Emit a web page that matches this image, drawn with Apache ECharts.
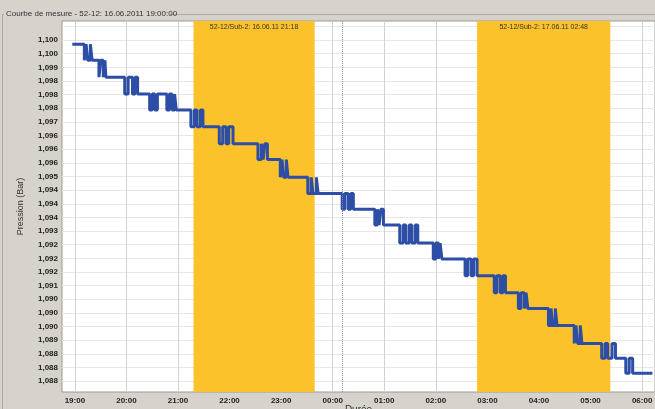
<!DOCTYPE html>
<html>
<head>
<meta charset="utf-8">
<script src="https://cdn.jsdelivr.net/npm/echarts@6/dist/echarts.min.js"></script>
<style>
  html, body { margin: 0; padding: 0; background: #d6d3cc; }
  #chart { width: 655px; height: 409px; }
</style>
</head>
<body>
<div id="chart"></div>
<script>
// Recording header
const chartTitle = 'Courbe de mesure - 52-12: 16.06.2011 19:00:00';

// Time axis: minutes after 16.06.2011 19:00
const hourLabels = ['19:00', '20:00', '21:00', '22:00', '23:00', '00:00',
                    '01:00', '02:00', '03:00', '04:00', '05:00', '06:00'];

// Pressure tick labels, bottom to top (ticks every 0.0005 bar from 1.0875)
const pressureTickStart = 1.0875;
const pressureTickStep = 0.0005;
const pressureLabels = ['1,088', '1,088', '1,088', '1,089', '1,090', '1,090', '1,090',
                        '1,091', '1,092', '1,092', '1,092', '1,093', '1,094', '1,094',
                        '1,094', '1,095', '1,096', '1,096', '1,096', '1,097', '1,098',
                        '1,098', '1,098', '1,099', '1,100', '1,100'];

// Sensor quantisation levels (bar), highest first
const levels = [1.09985, 1.09926, 1.09864, 1.09802, 1.09744, 1.09682, 1.09620,
                1.09562, 1.09497, 1.09438, 1.09380, 1.09322, 1.09256, 1.09198,
                1.09136, 1.09074, 1.09016, 1.08954, 1.08888, 1.08834, 1.08779];

// Minutes at which the reading flips between level k and level k+1
const toggles = [
  [11, 13, 15, 18, 20],
  [28, 30, 33, 35, 36],
  [58, 62, 67, 70, 73],
  [87, 90, 93, 96, 107, 110, 113, 116, 118],
  [135, 139, 142, 146, 149],
  [168, 172, 176, 179, 184],
  [213, 217, 219, 221, 224],
  [239, 241, 243, 246, 248],
  [271, 275, 277, 281, 283],
  [311, 314, 318, 321, 324],
  [349, 352, 354, 356, 359],
  [378, 382, 385, 389, 392, 396, 399],
  [417, 420, 423, 425, 427],
  [454, 457, 461, 464, 468],
  [488, 491, 495, 498, 501],
  [516, 519, 523, 525, 527],
  [551, 554, 556, 559, 561],
  [581, 583, 585, 588, 590],
  [613, 617, 620, 625, 629],
  [641, 645, 649]
];
const firstReading = -3;
const lastReading = 672;

// Substitution events (minutes after 19:00)
const events = [
  { from: 138, to: 279, label: '52-12/Sub-2: 16.06.11 21:18' },
  { from: 468, to: 623, label: '52-12/Sub-2: 17.06.11 02:48' }
];
const cursorMinute = 311;

// Build the step series from the level flips
const readings = [[firstReading, levels[0]]];
toggles.forEach((times, k) => {
  times.forEach((t, j) => {
    readings.push([t, j % 2 === 0 ? levels[k + 1] : levels[k]]);
  });
});
readings.push([lastReading, levels[levels.length - 1]]);

const T = 'rgba(0,0,0,0)';
const chart = echarts.init(document.getElementById('chart'));
chart.setOption({
  backgroundColor: '#d6d3cc',
  animation: false,
  textStyle: { fontFamily: 'Liberation Sans' },
  graphic: [
    { type: 'line', shape: { x1: 2.5, y1: 15, x2: 2.5, y2: 409 },
      style: { stroke: '#aeaba4', lineWidth: 1 } },
    { type: 'line', shape: { x1: 2, y1: 14.5, x2: 4, y2: 14.5 },
      style: { stroke: '#aeaba4', lineWidth: 1 } },
    { type: 'line', shape: { x1: 170, y1: 14.5, x2: 655, y2: 14.5 },
      style: { stroke: '#aeaba4', lineWidth: 1 } },
    { type: 'text', left: 6, top: 10,
      style: { text: chartTitle, fill: '#333', font: '8px "Liberation Sans"' } }
  ],
  grid: {
    left: 62, right: 0, top: 21, bottom: 17,
    containLabel: false, outerBoundsMode: 'none',
    show: true, backgroundColor: '#ffffff', borderColor: '#9c9a95', borderWidth: 1
  },
  xAxis: {
    type: 'value', min: -15, max: 675, interval: 15,
    name: 'Durée', nameLocation: 'middle', nameGap: 13, nameMoveOverlap: false,
    nameTextStyle: { fontSize: 10, color: '#333', verticalAlign: 'top' },
    axisLine: { show: false }, axisTick: { show: false },
    axisLabel: {
      margin: 5, fontSize: 8, fontWeight: 'bold', color: '#222',
      formatter: v => (v >= 0 && v % 60 === 0) ? (hourLabels[v / 60] || '') : ''
    },
    splitLine: { show: true, lineStyle: { color: [T, '#d2d2d2', T, T], width: 1 } }
  },
  yAxis: {
    type: 'value', min: 1.0871, max: 1.1007, interval: 0.0001,
    name: 'Pression (Bar)', nameLocation: 'middle', nameGap: 37, nameMoveOverlap: false,
    nameTextStyle: { fontSize: 9, color: '#333' },
    axisLine: { show: false }, axisTick: { show: false },
    axisLabel: {
      margin: 4, fontSize: 8, fontWeight: 'bold', color: '#222',
      formatter: v => {
        const r = (v - pressureTickStart) / pressureTickStep;
        const i = Math.round(r);
        return (Math.abs(r - i) < 1e-6 && i >= 0 && i < pressureLabels.length) ? pressureLabels[i] : '';
      }
    },
    splitLine: { show: true, lineStyle: { color: [T, T, T, T, '#e6e6e6'], width: 1 } }
  },
  series: [
    {
      type: 'line', data: [], z: 1, silent: true,
      markArea: {
        silent: true,
        itemStyle: { color: '#fbc22c', opacity: 1 },
        label: { show: true, position: 'insideTop', distance: 3, fontSize: 7, color: '#333' },
        data: events.map(e => [{ xAxis: e.from, name: e.label }, { xAxis: e.to }])
      },
      markLine: {
        silent: true, symbol: 'none', label: { show: false },
        lineStyle: { type: 'dotted', color: '#8f84c4', width: 1 },
        data: [{ xAxis: cursorMinute }]
      }
    },
    {
      type: 'line', z: 3, step: 'end', showSymbol: false, symbol: 'none',
      data: readings,
      lineStyle: { color: '#2c4ea6', width: 3, join: 'bevel', cap: 'butt' }
    }
  ]
});
</script>
</body>
</html>
